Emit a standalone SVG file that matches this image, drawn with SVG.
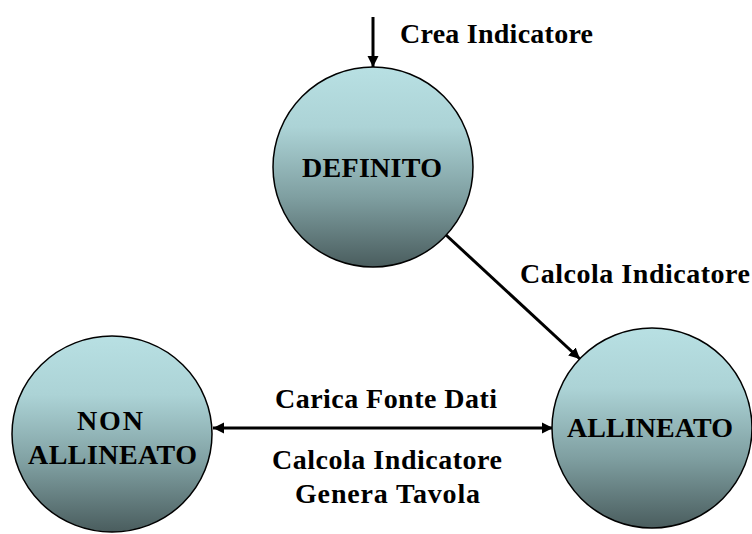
<svg xmlns="http://www.w3.org/2000/svg" width="752" height="534" viewBox="0 0 752 534">
<defs>
<linearGradient id="g" x1="0" y1="0" x2="0" y2="1">
<stop offset="0" stop-color="#b8e0e3"/>
<stop offset="0.3" stop-color="#acd3d6"/>
<stop offset="0.65" stop-color="#7f9fa1"/>
<stop offset="1" stop-color="#4a5d5e"/>
</linearGradient>
<marker id="ah" markerUnits="userSpaceOnUse" markerWidth="12" markerHeight="12" viewBox="0 0 12 12" refX="11" refY="6" orient="auto-start-reverse">
<path d="M0,0.5 L11,6 L0,11.5 Z" fill="#000"/>
</marker>
</defs>
<style>
.st{fill:url(#g);stroke:#000;stroke-width:1.5}
.t{font-family:"Liberation Serif","Times New Roman",serif;font-size:28px;font-weight:bold;fill:#000}
.c{stroke:#000;stroke-width:3;fill:none}
</style>
<rect width="752" height="534" fill="#fff"/>
<g id="connectors">
<line class="c" x1="373" y1="17" x2="373" y2="67" marker-end="url(#ah)"/>
<line class="c" x1="446" y1="235" x2="580" y2="359" marker-end="url(#ah)"/>
<line class="c" x1="213" y1="428" x2="553" y2="428" marker-start="url(#ah)" marker-end="url(#ah)"/>
<text class="t" x="400" y="43" textLength="193" lengthAdjust="spacing">Crea Indicatore</text>
<text class="t" x="520" y="283" textLength="230" lengthAdjust="spacing">Calcola Indicatore</text>
<text class="t" x="275" y="408" textLength="222" lengthAdjust="spacing">Carica Fonte Dati</text>
<text class="t" x="272" y="469" textLength="230" lengthAdjust="spacing">Calcola Indicatore</text>
<text class="t" x="295" y="503" textLength="185" lengthAdjust="spacing">Genera Tavola</text>
</g>
<g id="definito">
<circle class="st" cx="373" cy="167" r="100"/>
<text class="t" x="302" y="177" textLength="140" lengthAdjust="spacing">DEFINITO</text>
</g>
<g id="allineato">
<circle class="st" cx="652" cy="428" r="100"/>
<text class="t" x="567" y="437" textLength="166" lengthAdjust="spacing">ALLINEATO</text>
</g>
<g id="non-allineato">
<ellipse class="st" cx="112" cy="434" rx="100" ry="98"/>
<text class="t" x="77" y="430" textLength="66" lengthAdjust="spacing">NON</text>
<text class="t" x="28" y="464" textLength="169" lengthAdjust="spacing">ALLINEATO</text>
</g>
</svg>
